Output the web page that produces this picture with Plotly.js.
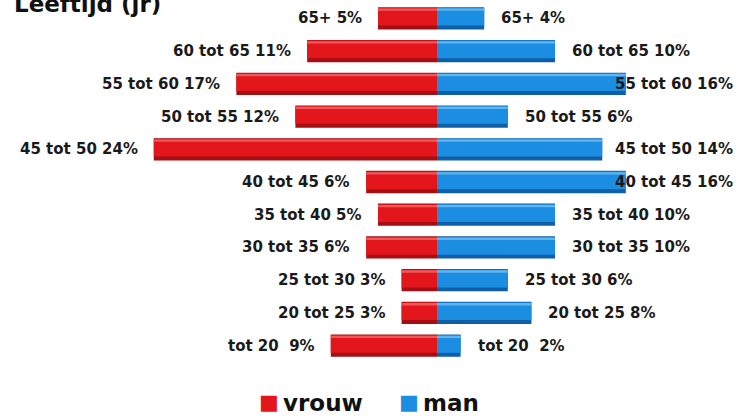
<!DOCTYPE html>
<html>
<head>
<meta charset="utf-8">
<script src="https://cdn.plot.ly/plotly-3.0.1.min.js"></script>
<style>html,body{margin:0;padding:0;background:#fff;}#chart{width:741px;height:416px;}</style>
</head>
<body>
<div id="chart"></div>
<script>
// ---- data ----
const categories = ['65+', '60 tot 65', '55 tot 60', '50 tot 55', '45 tot 50', '40 tot 45', '35 tot 40', '30 tot 35', '25 tot 30', '20 tot 25', 'tot 20'];
const labelNames = ['65+', '60 tot 65', '55 tot 60', '50 tot 55', '45 tot 50', '40 tot 45', '35 tot 40', '30 tot 35', '25 tot 30', '20 tot 25', 'tot 20\u00a0'];
const vrouw = [5, 11, 17, 12, 24, 6, 5, 6, 3, 3, 9];
const man = [4, 10, 16, 6, 14, 16, 10, 10, 6, 8, 2];
const seriesNames = ['vrouw', 'man'];
const chartTitle = 'Leeftijd (jr)';

// ---- styling ----
const W = 741, H = 416, MT = 2, MB = 54;
const PH = H - MT - MB;
const xmin = -37.03, xmax = 25.76;
const red = {base: '#a50e12', main: '#e3161c', light: '#f26a6c'};
const blue = {base: '#0f5ea8', main: '#1b8ee2', light: '#74bdf2'};
const labelFont = {family: 'DejaVu Sans', size: 15, color: '#1a1a1a', weight: 'bold'};

function layers(vals, sign, col, name) {
  const xs = vals.map(v => sign * v);
  const common = {type: 'bar', orientation: 'h', y: categories, x: xs, hoverinfo: 'skip', showlegend: false, name: name};
  return [
    Object.assign({}, common, {width: 0.68, offset: -0.34, marker: {color: col.base, line: {width: 0}}}),
    Object.assign({}, common, {width: 0.54, offset: -0.32, marker: {color: col.main, line: {width: 0}}}),
    Object.assign({}, common, {width: 0.07, offset: -0.3, marker: {color: col.light, line: {width: 0}}, opacity: 0.8})
  ];
}

const traces = [].concat(layers(vrouw, -1, red, seriesNames[0]), layers(man, 1, blue, seriesNames[1]));

// measure text
const cv = document.createElement('canvas').getContext('2d');
cv.font = 'bold 15px "DejaVu Sans"';
function px(v) { return (v - xmin) / (xmax - xmin) * W; }

const annotations = [];
categories.forEach((c, i) => {
  annotations.push({x: -vrouw[i], y: c, xref: 'x', yref: 'y', text: labelNames[i] + ' ' + vrouw[i] + '%',
    showarrow: false, xanchor: 'right', xshift: -14, font: labelFont});
  const t = labelNames[i] + ' ' + man[i] + '%';
  const w = cv.measureText(t).width;
  const start = px(man[i]) + 15;
  if (start + w > W - 6) {
    annotations.push({x: (W - 6) / W, y: c, xref: 'paper', yref: 'y', text: t,
      showarrow: false, xanchor: 'right', font: labelFont});
  } else {
    annotations.push({x: man[i], y: c, xref: 'x', yref: 'y', text: t,
      showarrow: false, xanchor: 'left', xshift: 15, font: labelFont});
  }
});
annotations.push({x: 0, y: 1, xref: 'paper', yref: 'paper', xanchor: 'left', yanchor: 'middle',
  xshift: 12, yshift: -2, text: chartTitle, showarrow: false,
  font: {family: 'DejaVu Sans', size: 23, color: '#111', weight: 'bold'}});

// custom legend
const legY = (MT + PH - 415) / PH;
const legend = [
  {sq: 269, tx: 281, color: red.main, name: seriesNames[0]},
  {sq: 409, tx: 421, color: blue.main, name: seriesNames[1]}
];
legend.forEach(l => {
  annotations.push({x: l.sq / W, y: legY, xref: 'paper', yref: 'paper', xanchor: 'center', yanchor: 'bottom',
    yshift: -1, text: '\u25A0', showarrow: false, font: {family: 'DejaVu Sans', size: 21, color: l.color}});
  annotations.push({x: l.tx / W, y: legY, xref: 'paper', yref: 'paper', xanchor: 'left', yanchor: 'bottom',
    yshift: -3, text: l.name, showarrow: false, font: {family: 'DejaVu Sans', size: 23, color: '#111', weight: 'bold'}});
});

const layout = {
  width: W, height: H,
  margin: {l: 0, r: 0, t: MT, b: MB},
  paper_bgcolor: '#fff', plot_bgcolor: '#fff',
  barmode: 'overlay',
  showlegend: false,
  xaxis: {range: [xmin, xmax], visible: false, fixedrange: true},
  yaxis: {type: 'category', categoryorder: 'array', categoryarray: categories, autorange: false,
    range: [10.5, -0.5], visible: false},
  annotations: annotations
};

Plotly.newPlot('chart', traces, layout, {displayModeBar: false, staticPlot: true});
</script>
</body>
</html>
